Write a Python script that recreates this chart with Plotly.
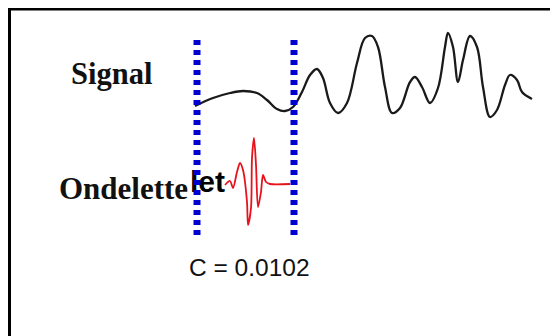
import plotly.graph_objects as go

# Signal (x = horizontal position, y = vertical position, downward)
signal_x = [195, 213, 230, 243, 257, 267, 277, 285, 293, 302, 310, 317, 323, 330, 338,
            347, 357, 365, 372, 378, 385, 392, 400, 410, 415, 422, 430, 438, 445, 448,
            453, 458, 463, 470, 477, 483, 490, 497, 505, 510, 517, 522, 532]
signal_y = [106, 98, 93, 91, 93, 100, 109, 111, 107, 92, 75, 69, 78, 103, 113,
            103, 63, 38, 36, 47, 87, 113, 108, 82, 77, 87, 103, 88, 47, 33,
            47, 82, 60, 36, 47, 87, 117, 110, 85, 75, 80, 92, 99]

# Wavelet
wave_x = [225, 230, 233, 237, 240, 243, 247, 248, 251, 252, 254, 256, 258, 261, 263, 266, 270, 290]
wave_y = [185, 181, 188, 172, 163, 170, 202, 225, 208, 158, 138, 165, 207, 192, 175, 182, 184, 184]

# Window bounds
window_x = [197, 294]
window_y = [40, 236]

labels = ["Signal", "Ondelette", "let", "C = 0.0102"]

fig = go.Figure()

# overlapping fragment text (drawn below the dotted lines)
fig.add_trace(go.Scatter(x=[190], y=[184], mode="text", text=["<b>" + labels[2] + "</b>"],
                         textposition="middle right",
                         textfont=dict(family="Liberation Sans", size=30, color="#000000"),
                         hoverinfo="skip", showlegend=False))

fig.add_trace(go.Scatter(x=signal_x, y=signal_y, mode="lines",
                         line=dict(color="#1a1a1a", width=2.3, shape="spline", smoothing=1),
                         showlegend=False))
fig.add_trace(go.Scatter(x=wave_x, y=wave_y, mode="lines",
                         line=dict(color="#e8121c", width=1.8, shape="spline", smoothing=0.8),
                         showlegend=False))

for wx in window_x:
    fig.add_trace(go.Scatter(x=[wx, wx], y=window_y, mode="lines",
                             line=dict(color="#0000d0", width=7, dash="5px,5px"),
                             showlegend=False))

fig.add_annotation(x=69, y=74, text="<b>" + labels[0] + "</b>", showarrow=False,
                   xanchor="left", yanchor="middle",
                   font=dict(family="Liberation Serif", size=30.5, color="#111111"))
fig.add_annotation(x=57, y=188, text="<b>" + labels[1] + "</b>", showarrow=False,
                   xanchor="left", yanchor="middle",
                   font=dict(family="Liberation Serif", size=31, color="#111111"))
fig.add_annotation(x=187, y=267, text=labels[3], showarrow=False,
                   xanchor="left", yanchor="middle",
                   font=dict(family="Liberation Sans", size=24.5, color="#111111"))

# frame (top and left edges)
fig.add_shape(type="line", x0=8, x1=570, y0=9, y1=9, line=dict(color="black", width=3))
fig.add_shape(type="line", x0=9.5, x1=9.5, y0=8, y1=350, line=dict(color="black", width=3))

fig.update_layout(
    width=558, height=336,
    margin=dict(l=0, r=0, t=0, b=0),
    paper_bgcolor="white", plot_bgcolor="white",
    xaxis=dict(range=[8, 566], visible=False, fixedrange=True),
    yaxis=dict(range=[344, 8], visible=False, fixedrange=True),
    showlegend=False,
)

fig.write_html("out.html")
